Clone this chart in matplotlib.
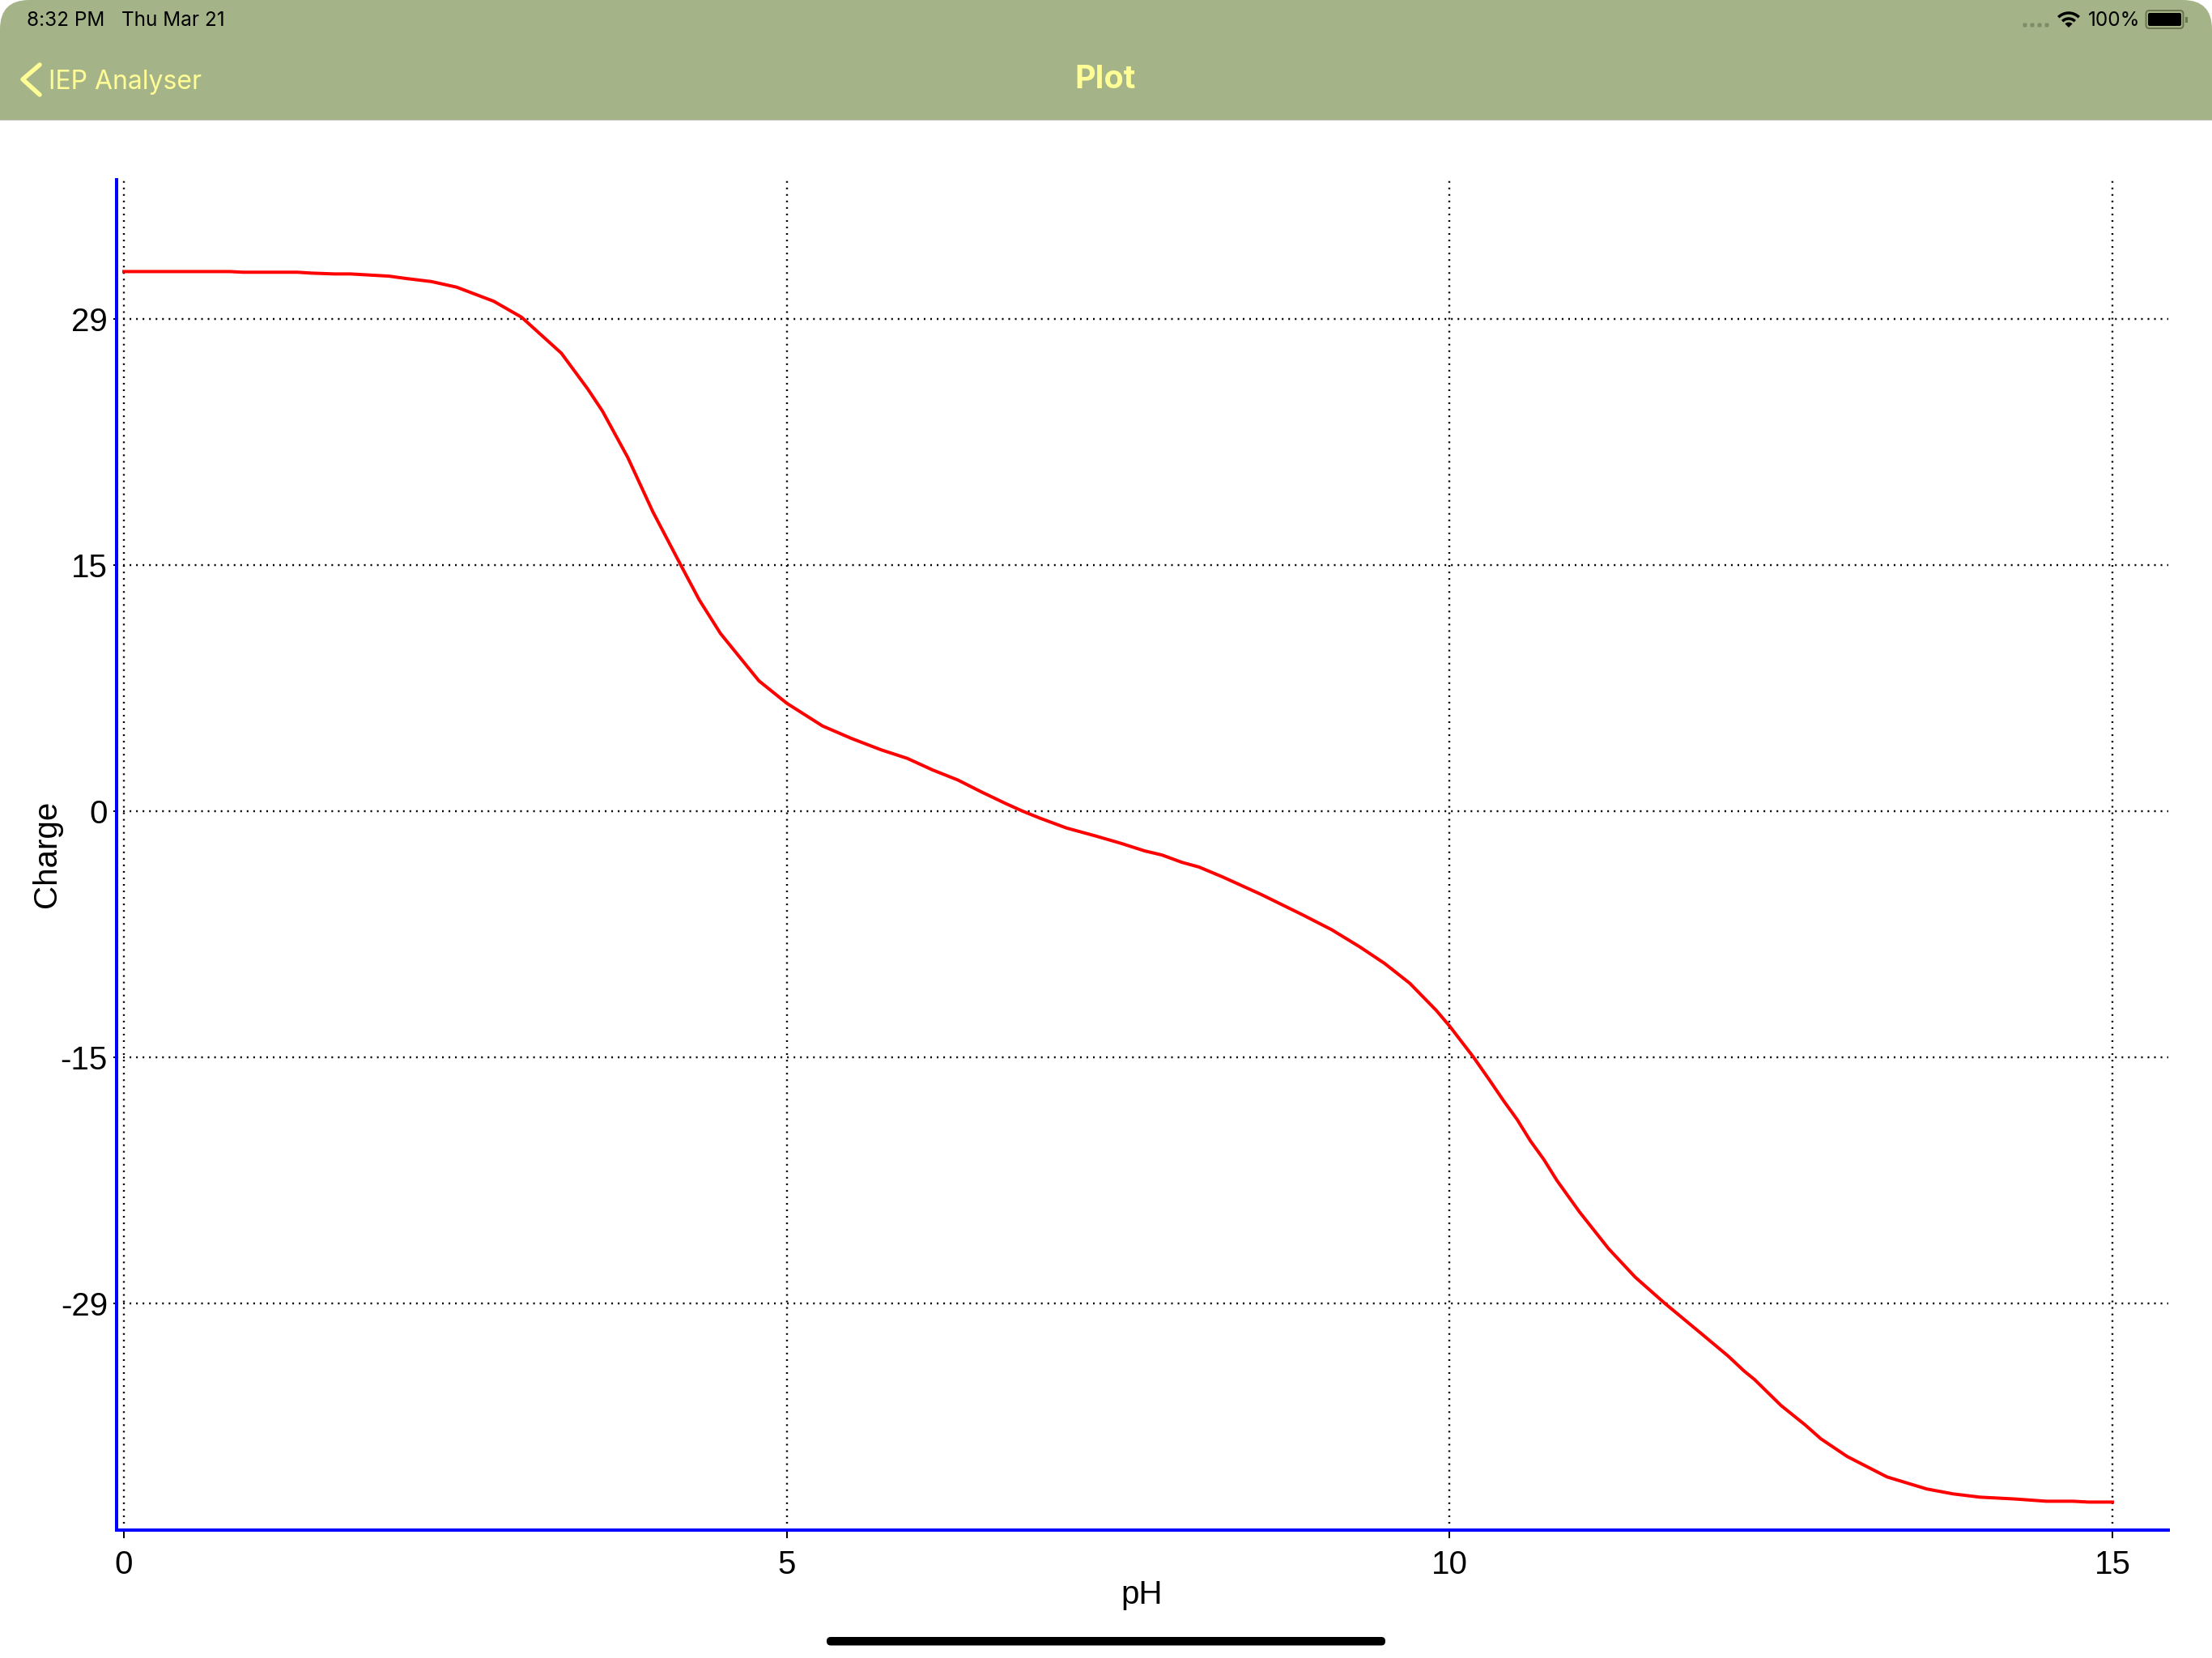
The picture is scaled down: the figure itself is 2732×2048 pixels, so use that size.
import matplotlib
matplotlib.use("Agg")
import matplotlib.pyplot as plt
from matplotlib.lines import Line2D
from matplotlib.patches import Arc, FancyBboxPatch, Rectangle, Wedge

# values
ph_values = [0.0, 0.80, 0.90, 1.31, 1.41, 1.59, 1.71, 2.00, 2.12, 2.32, 2.51, 2.79, 3.00, 3.30, 3.50, 3.61,
             3.80, 3.99, 4.20, 4.34, 4.50, 4.79, 5.00, 5.27, 5.49, 5.71, 5.91, 6.10, 6.29, 6.47, 6.66, 6.78,
             6.91, 7.11, 7.33, 7.52, 7.70, 7.83, 7.98, 8.11, 8.29, 8.58, 8.89, 9.11, 9.32, 9.51, 9.70, 9.90,
             10.00, 10.18, 10.30, 10.41, 10.51, 10.61, 10.71, 10.81, 10.98, 11.20, 11.40, 11.62, 11.89, 12.10,
             12.22, 12.30, 12.50, 12.68, 12.80, 13.00, 13.30, 13.60, 13.80, 14.00, 14.27, 14.50, 14.70, 14.82, 15.0]
charge_values = [31.79, 31.79, 31.75, 31.75, 31.70, 31.65, 31.65, 31.52, 31.39, 31.20, 30.87, 30.04, 29.10, 26.98,
                 24.86, 23.57, 20.85, 17.64, 14.51, 12.45, 10.47, 7.68, 6.36, 5.02, 4.28, 3.62, 3.11, 2.43, 1.84,
                 1.13, 0.42, 0.0, -0.41, -0.99, -1.46, -1.89, -2.34, -2.58, -3.01, -3.29, -3.88, -4.91, -6.10,
                 -6.98, -7.98, -8.97, -10.14, -11.74, -12.66, -14.49, -15.83, -17.09, -18.17, -19.43, -20.51,
                 -21.76, -23.61, -25.78, -27.45, -28.97, -30.72, -32.09, -32.97, -33.48, -35.01, -36.14, -36.97,
                 -38.02, -39.22, -39.93, -40.22, -40.41, -40.52, -40.65, -40.65, -40.70, -40.70]

x_ticks = [0, 5, 10, 15]
y_ticks = [-29, -14.5, 0, 14.5, 29]
y_tick_labels = ["-29", "-15", "0", "15", "29"]

W, H = 2732, 2048
DPI = 100
px = 72 / DPI  # one screen pixel in points

HEADER = "#A5B388"
YELLOW = "#FFFD96"
UI_FONT = "Inter"

plt.rcParams["font.family"] = ["Liberation Sans", "DejaVu Sans"]

fig = plt.figure(figsize=(W / DPI, H / DPI), dpi=DPI, facecolor="white")

# plot area, in screen pixels (spines stick out 2px past these)
left, right, top, bottom = 144, 2678, 222, 1890
ax = fig.add_axes([left / W, 1 - bottom / H, (right - left) / W, (bottom - top) / H])

ax.plot(ph_values, charge_values, color="#FF0000", lw=4 * px, solid_joinstyle="round")

ax.set_xlim(-0.055, 15.421)
ax.set_ylim(-42.35, 37.2)
ax.set_xticks(x_ticks)
ax.set_yticks(y_ticks)
ax.set_yticklabels(y_tick_labels)
ax.tick_params(axis="x", length=10 * px, width=2 * px, color="black", labelsize=29, pad=14 * px)
ax.tick_params(axis="y", length=4 * px, width=2 * px, color="black", labelsize=29, pad=7 * px)

ax.set_axisbelow(True)
ax.grid(True, color="black", lw=2.4 * px, linestyle=(0, (0.85, 2.5)))

for side in ["top", "right"]:
    ax.spines[side].set_visible(False)
for side in ["left", "bottom"]:
    ax.spines[side].set_color("#0000FF")
    ax.spines[side].set_linewidth(4 * px)

ax.set_xlabel("pH", fontsize=29)
ax.set_ylabel("Charge", fontsize=29)
ax.xaxis.set_label_coords(0.4998, -0.0366)
ax.yaxis.set_label_coords(-0.0266, 0.5006)

# iPad chrome, drawn in pixel coordinates on a see-through axes
ui = fig.add_axes([0, 0, 1, 1], facecolor="none")
ui.set_xlim(0, W)
ui.set_ylim(H, 0)
ui.axis("off")

ui.add_patch(FancyBboxPatch((0, 0), W, 200, boxstyle="round,pad=0,rounding_size=36", fc=HEADER, ec="none"))
ui.add_patch(Rectangle((0, 60), W, 88, fc=HEADER, ec="none"))
ui.add_patch(Rectangle((0, 148), W, 1.2, fc="#C8C8C8", ec="none"))
ui.add_patch(Rectangle((0, 149.2), W, 60, fc="white", ec="none"))

ui.text(33, 32, "8:32 PM", fontsize=17.5, family=UI_FONT, color="black")
ui.text(150, 32, "Thu Mar 21", fontsize=17.5, family=UI_FONT, color="black")
ui.text(2579, 32, "100%", fontsize=17.5, family=UI_FONT, color="black")

ui.add_line(Line2D([49, 28, 49], [80, 98, 117], color=YELLOW, lw=5.5 * px, solid_capstyle="round", solid_joinstyle="round"))
ui.text(60, 110, "IEP Analyser", fontsize=23, family=UI_FONT, color=YELLOW)
ui.text(1365, 109, "Plot", fontsize=28.5, family=UI_FONT, fontweight="bold", color=YELLOW, ha="center")

# signal dots
for dot_x in [2501, 2510, 2519, 2528]:
    ui.add_patch(FancyBboxPatch((dot_x - 2.5, 28.5), 5, 5, boxstyle="round,pad=0,rounding_size=1.5", fc="#7F8C6A", ec="none"))

# wifi
for radius in [18, 11]:
    ui.add_patch(Arc((2555, 34), radius * 2, radius * 2, theta1=225, theta2=315, color="black", lw=3.5 * px))
ui.add_patch(Wedge((2555, 34), 6.5, 225, 315, fc="black", ec="none"))

# battery
ui.add_patch(FancyBboxPatch((2650.5, 13), 46, 22, boxstyle="round,pad=0,rounding_size=4", fc="none", ec="#6A7552", lw=2 * px))
ui.add_patch(FancyBboxPatch((2653, 16), 41, 16, boxstyle="round,pad=0,rounding_size=2", fc="black", ec="none"))
ui.add_patch(Rectangle((2699, 20.5), 2.5, 7, fc="#6A7552", ec="none"))

# home indicator
ui.add_patch(FancyBboxPatch((1021, 2022), 690, 10.5, boxstyle="round,pad=0,rounding_size=5", fc="black", ec="none"))

fig.savefig("out.png", dpi=DPI)
